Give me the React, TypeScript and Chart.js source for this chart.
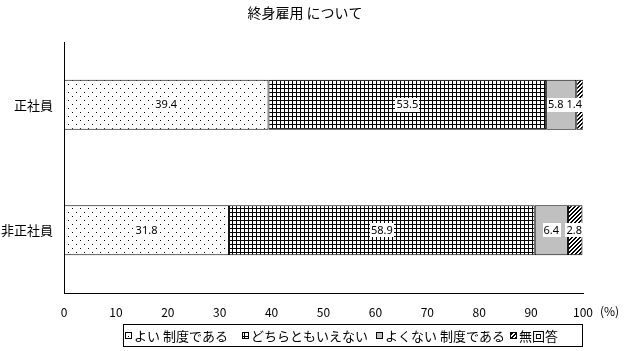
import React, { useEffect, useRef } from "react";
import { Chart, registerables } from "chart.js";

Chart.register(...registerables);

const categories = ["正社員", "非正社員"];
const seriesLabels = ["よい 制度である", "どちらともいえない", "よくない 制度である", "無回答"];
const goodValues = [39.4, 31.8];
const neutralValues = [53.5, 58.9];
const badValues = [5.8, 6.4];
const noAnswerValues = [1.4, 2.8];
const xMin = 0;
const xMax = 100;
const xStep = 10;
const titleText = "終身雇用 について";
const unitText = "(%)";

const FONT = "'Noto Sans CJK JP', 'Noto Sans', sans-serif";
const NUM_FONT = "'Noto Sans', sans-serif";

function makePattern(size: number, isBlack: (x: number, y: number) => boolean, bg: number[] = [255, 255, 255]) {
  const c = document.createElement("canvas");
  c.width = size;
  c.height = size;
  const ctx = c.getContext("2d")!;
  const img = ctx.createImageData(size, size);
  for (let y = 0; y < size; y++) {
    for (let x = 0; x < size; x++) {
      const i = (y * size + x) * 4;
      const b = isBlack(x, y);
      img.data[i] = b ? 0 : bg[0];
      img.data[i + 1] = b ? 0 : bg[1];
      img.data[i + 2] = b ? 0 : bg[2];
      img.data[i + 3] = 255;
    }
  }
  ctx.putImageData(img, 0, 0);
  return ctx.createPattern(c, "repeat")!;
}

export default function App() {
  const ref = useRef<HTMLCanvasElement | null>(null);

  useEffect(() => {
    document.body.style.margin = "0";
    const canvas = ref.current!;
    const dots = makePattern(8, (x, y) => (x === 0 && y === 0) || (x === 4 && y === 4));
    const grid = makePattern(4, (x, y) => x % 4 === 0 || y % 4 === 0);
    const gray = "#c0c0c0";
    const hatch = makePattern(4, (x, y) => (x + y) % 4 === 0 || (x + y) % 4 === 1);
    const fills: any[] = [dots, grid, gray, hatch];
    const values = [goodValues, neutralValues, badValues, noAnswerValues];

    const labelsPlugin = {
      id: "barLabels",
      afterDatasetsDraw(chart: any) {
        const ctx = chart.ctx;
        const area = chart.chartArea;
        ctx.save();
        ctx.font = `11px ${NUM_FONT}`;
        ctx.textAlign = "center";
        ctx.textBaseline = "middle";
        const n = chart.data.labels.length;
        for (let j = 0; j < n; j++) {
          const items: any[] = [];
          chart.data.datasets.forEach((ds: any, i: number) => {
            const el = chart.getDatasetMeta(i).data[j];
            const p = el.getProps(["x", "y", "base"], true);
            const text = ds.data[j].toFixed(1);
            const w = ctx.measureText(text).width;
            let cx = (p.x + p.base) / 2;
            cx = Math.min(cx, area.right - w / 2 - 1);
            items.push({ text, w, cx, y: p.y });
          });
          for (let k = items.length - 2; k >= 0; k--) {
            const a = items[k];
            const b = items[k + 1];
            const maxRight = b.cx - b.w / 2 - 2;
            if (a.cx + a.w / 2 + 1 > maxRight) a.cx = maxRight - a.w / 2 - 1;
          }
          items.forEach((it) => {
            ctx.fillStyle = "#fff";
            ctx.fillRect(Math.round(it.cx - it.w / 2 - 1), Math.round(it.y - 7), Math.round(it.w + 2), 14);
            ctx.fillStyle = "#000";
            ctx.fillText(it.text, it.cx, it.y + 0.5);
          });
        }
        ctx.restore();
      },
    };

    const decorPlugin = {
      id: "decor",
      afterDraw(chart: any) {
        const ctx = chart.ctx;
        const xs = chart.scales.x;
        ctx.save();
        ctx.fillStyle = "#000";
        ctx.font = `14px ${FONT}`;
        ctx.textAlign = "center";
        ctx.textBaseline = "middle";
        ctx.fillText(titleText, 305, 13);
        ctx.font = `12px ${FONT}`;
        ctx.textAlign = "left";
        ctx.fillText(unitText, xs.right + 17, 311);
        ctx.strokeStyle = "#000";
        ctx.lineWidth = 1;
        ctx.strokeRect(123.5, 324.5, 459, 22);
        const markerX = [125, 242, 376, 510];
        ctx.font = `13px ${FONT}`;
        ctx.textBaseline = "middle";
        chart.data.datasets.forEach((ds: any, i: number) => {
          const mx = markerX[i];
          const my = 332;
          ctx.fillStyle = ds.backgroundColor;
          ctx.fillRect(mx, my, 7, 7);
          ctx.strokeRect(mx + 0.5, my + 0.5, 6, 6);
          ctx.fillStyle = "#000";
          ctx.fillText(ds.label, mx + 9, 336);
        });
        ctx.restore();
      },
    };

    const chart = new Chart(canvas, {
      type: "bar",
      data: {
        labels: categories,
        datasets: seriesLabels.map((label, i) => ({
          label,
          data: values[i],
          backgroundColor: fills[i],
          borderColor: "#000",
          borderWidth: 1,
          borderSkipped: false,
          barPercentage: 0.4,
          categoryPercentage: 1,
        })),
      },
      options: {
        indexAxis: "y",
        responsive: false,
        animation: false,
        events: [],
        layout: { padding: { top: 42, right: 44, left: 0, bottom: 0 } },
        plugins: {
          legend: { display: false },
          title: { display: false },
          tooltip: { enabled: false },
        },
        scales: {
          x: {
            stacked: true,
            min: xMin,
            max: xMax,
            grid: { display: false, drawTicks: false },
            border: { display: true, color: "#000", width: 1 },
            ticks: {
              stepSize: xStep,
              padding: 12,
              color: "#000",
              maxRotation: 0,
              font: { size: 12, family: FONT },
            },
            afterFit: (s: any) => {
              s.height = 58;
            },
          },
          y: {
            stacked: true,
            grid: { display: false, drawTicks: false },
            border: { display: true, color: "#000", width: 1 },
            ticks: {
              padding: 11,
              color: "#000",
              font: { size: 13, family: FONT },
            },
            afterFit: (s: any) => {
              s.width = 64;
            },
          },
        },
      } as any,
      plugins: [labelsPlugin, decorPlugin],
    });
    return () => chart.destroy();
  }, []);

  return (
    <div style={{ position: "absolute", left: 0, top: 0, width: 627, height: 351, background: "#fff" }}>
      <canvas ref={ref} width={627} height={351} style={{ display: "block" }} />
    </div>
  );
}
